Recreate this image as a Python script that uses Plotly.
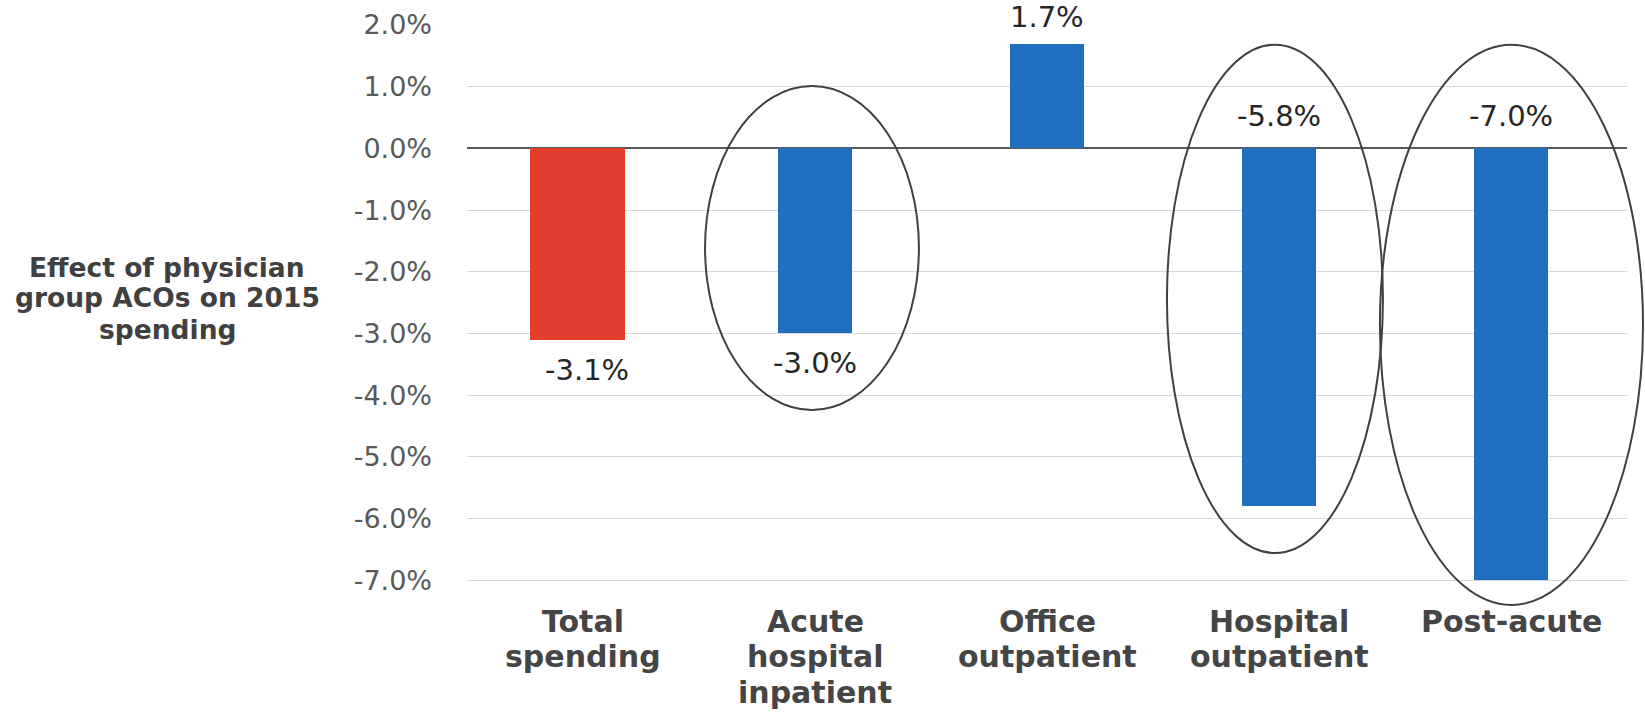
import plotly.graph_objects as go

# ---- data ----
categories = ["Total spending", "Acute hospital inpatient", "Office outpatient",
              "Hospital outpatient", "Post-acute"]
tick_labels = ["Total<br>spending", "Acute<br>hospital<br>inpatient", "Office<br>outpatient",
               "Hospital<br>outpatient", "Post-acute"]
values = [-3.1, -3.0, 1.7, -5.8, -7.0]
y_ticks = [2, 1, 0, -1, -2, -3, -4, -5, -6, -7]
y_tick_labels = [f"{v:.1f}%" for v in y_ticks]
title_lines = ["Effect of physician", "group ACOs on 2015", "spending"]

# ---- style ----
bar_colors = ["#E53C30", "#1F6EC0", "#1F6EC0", "#1F6EC0", "#1F6EC0"]
bar_widths = [0.41, 0.315, 0.315, 0.315, 0.315]
bar_offsets = [-0.23, -0.1575, -0.1575, -0.1575, -0.1575]
label_above_zero = [False, False, False, True, True]
# highlight ellipses: (x from, x to) in category units, (y top, y bottom) in data units
ellipses = [(0.526, 1.448, 1.01, -4.24),
            (2.517, 3.448, 1.68, -6.56),
            (3.435, 4.569, 1.68, -7.40)]

n = len(categories)
x_idx = list(range(n))

W, H = 1645, 714
L, R, T, B = 467, 18, 25, 106
pw = W - L - R
ph = H - T - B

fig = go.Figure()
fig.add_trace(go.Bar(
    x=x_idx, y=values, width=bar_widths, offset=bar_offsets,
    marker=dict(color=bar_colors, line=dict(width=0)),
    showlegend=False, hoverinfo="skip",
))

# value labels
val_font = dict(family="DejaVu Sans", size=29, color="#262626")
for i, v in enumerate(values):
    txt = f"{v:.1f}%"
    xs = 0
    if label_above_zero[i]:
        y, anchor, shift = 0, "bottom", 13
    elif v >= 0:
        y, anchor, shift = v, "bottom", 8
    else:
        y, anchor, shift = v, "top", -11
        xs = 4 if i == 0 else 0
    fig.add_annotation(x=i, y=y, xref="x", yref="y", text=txt, showarrow=False,
                       yanchor=anchor, yshift=shift, xshift=xs, font=val_font)

# ellipses (x converted from category units to paper units)
def cat_to_paper(c):
    return (c + 0.5) / n

for x0, x1, yt, yb in ellipses:
    fig.add_shape(type="circle", xref="paper", yref="y",
                  x0=cat_to_paper(x0), x1=cat_to_paper(x1), y0=yb, y1=yt,
                  line=dict(color="#404040", width=2), fillcolor="rgba(0,0,0,0)",
                  layer="above")

# category labels (one annotation per line for tight line spacing)
cat_font = dict(family="DejaVu Sans", size=30, color="#454545", weight="bold")
for i, lab in enumerate(tick_labels):
    for k, line in enumerate(lab.split("<br>")):
        ypx = 621 + 35.5 * k
        fig.add_annotation(x=i, xref="x", yref="paper", y=(H - B - ypx) / ph,
                           text=line, showarrow=False, xanchor="center", yanchor="middle",
                           font=cat_font)

# y-axis title, line by line
title_font = dict(family="DejaVu Sans", size=26.5, color="#404040", weight="bold")
for k, line in enumerate(title_lines):
    ypx = 267 + 31 * k
    fig.add_annotation(xref="paper", yref="paper",
                       x=(167 - L) / pw, y=(H - B - ypx) / ph,
                       text=line, showarrow=False, xanchor="center", yanchor="middle",
                       font=title_font)

fig.update_layout(
    width=W, height=H,
    margin=dict(l=L, r=R, t=T, b=B, autoexpand=False),
    paper_bgcolor="white", plot_bgcolor="white",
    bargap=0,
    xaxis=dict(
        tickmode="array", tickvals=x_idx, ticktext=tick_labels, showticklabels=False,
        range=[-0.5, n - 0.5], showgrid=False, zeroline=False, showline=False,
        ticks="", automargin=False,
    ),
    yaxis=dict(
        range=[-7.45, 2.0], tickmode="array", tickvals=y_ticks, ticktext=y_tick_labels,
        showgrid=True, gridcolor="#D9D9D9", gridwidth=1,
        zeroline=True, zerolinecolor="#595959", zerolinewidth=2,
        showline=False, ticks="", ticklabelstandoff=34, automargin=False,
        tickfont=dict(family="DejaVu Sans", size=27, color="#595959"),
    ),
)

fig.write_html("out.html")
